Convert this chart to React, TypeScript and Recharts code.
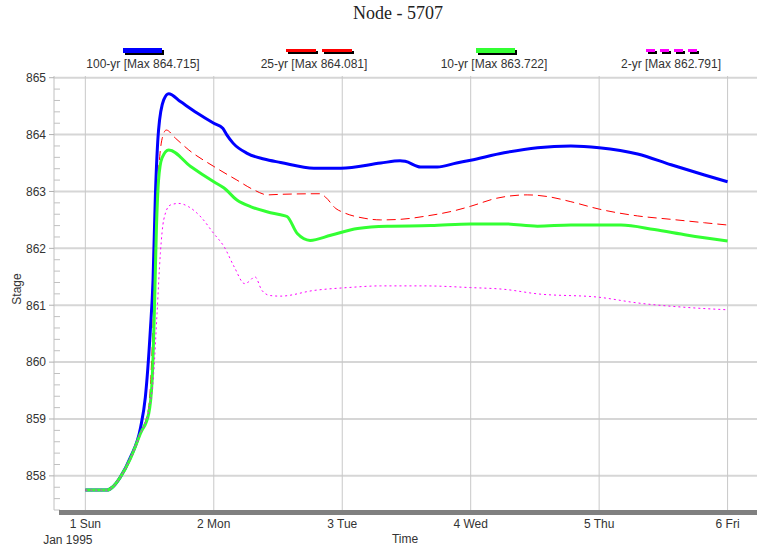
import React from 'react';
import { LineChart, Line, XAxis, YAxis, ReferenceLine } from 'recharts';

const dayTicks = [0, 1, 2, 3, 4, 5];
const dayLabels = ['1 Sun', '2 Mon', '3 Tue', '4 Wed', '5 Thu', '6 Fri'];
const stageMajorTicks = [858, 859, 860, 861, 862, 863, 864, 865];
const stageAllTicks = [
  857.4, 857.6, 857.8, 858, 858.2, 858.4, 858.6, 858.8, 859, 859.2, 859.4, 859.6, 859.8,
  860, 860.2, 860.4, 860.6, 860.8, 861, 861.2, 861.4, 861.6, 861.8, 862, 862.2, 862.4,
  862.6, 862.8, 863, 863.2, 863.4, 863.6, 863.8, 864, 864.2, 864.4, 864.6, 864.8, 865,
];

const t100 = [0, 0.17, 0.21, 0.27, 0.35, 0.43, 0.467, 0.506, 0.527, 0.545, 0.57, 0.61, 0.649, 0.74, 0.87, 1.0, 1.07, 1.1, 1.15, 1.26, 1.39, 1.52, 1.78, 1.99, 2.3, 2.45, 2.49, 2.61, 2.74, 2.89, 3.0, 3.26, 3.52, 3.78, 4.0, 4.3, 4.56, 4.82, 5.0];
const v100 = [857.75, 857.75, 857.8, 857.97, 858.32, 858.85, 859.38, 860.56, 861.44, 862.91, 864.08, 864.61, 864.72, 864.58, 864.38, 864.2, 864.11, 864.0, 863.85, 863.67, 863.57, 863.51, 863.41, 863.41, 863.5, 863.54, 863.53, 863.43, 863.43, 863.5, 863.55, 863.68, 863.77, 863.8, 863.77, 863.66, 863.47, 863.29, 863.17];

const t25 = [0, 0.17, 0.21, 0.27, 0.35, 0.43, 0.493, 0.53, 0.553, 0.579, 0.61, 0.63, 0.7, 0.805, 1.0, 1.18, 1.31, 1.42, 1.52, 1.83, 1.87, 1.95, 2.01, 2.17, 2.3, 2.45, 2.66, 2.87, 3.0, 3.2, 3.44, 3.6, 3.78, 4.0, 4.3, 4.56, 4.82, 5.0];
const v25 = [857.75, 857.75, 857.8, 857.97, 858.3, 858.75, 859.2, 860.85, 862.62, 863.61, 864.02, 864.08, 863.94, 863.73, 863.44, 863.2, 863.03, 862.94, 862.95, 862.96, 862.9, 862.7, 862.63, 862.53, 862.5, 862.51, 862.57, 862.66, 862.74, 862.88, 862.94, 862.91, 862.82, 862.69, 862.57, 862.51, 862.45, 862.41];

const t10 = [0, 0.17, 0.21, 0.27, 0.35, 0.43, 0.493, 0.52, 0.537, 0.553, 0.57, 0.597, 0.649, 0.82, 1.0, 1.08, 1.18, 1.29, 1.42, 1.52, 1.57, 1.65, 1.75, 1.91, 2.12, 2.35, 2.69, 3.0, 3.26, 3.52, 3.78, 4.17, 4.43, 4.69, 5.0];
const v10 = [857.75, 857.75, 857.8, 857.97, 858.3, 858.75, 859.09, 859.68, 860.85, 862.32, 863.2, 863.59, 863.73, 863.44, 863.17, 863.06, 862.85, 862.73, 862.64, 862.59, 862.56, 862.26, 862.14, 862.23, 862.35, 862.39, 862.4, 862.43, 862.43, 862.39, 862.41, 862.41, 862.33, 862.23, 862.13];

const t2 = [0, 0.17, 0.21, 0.27, 0.35, 0.43, 0.493, 0.532, 0.558, 0.584, 0.61, 0.66, 0.727, 0.805, 0.9, 1.0, 1.08, 1.16, 1.24, 1.27, 1.32, 1.375, 1.44, 1.52, 1.78, 2.04, 2.3, 2.64, 3.0, 3.26, 3.52, 4.0, 4.3, 4.69, 5.0];
const v2 = [857.75, 857.75, 857.8, 857.97, 858.3, 858.75, 859.15, 859.8, 860.85, 861.91, 862.5, 862.76, 862.79, 862.73, 862.55, 862.26, 862.03, 861.67, 861.38, 861.41, 861.5, 861.26, 861.17, 861.16, 861.26, 861.31, 861.34, 861.34, 861.31, 861.28, 861.2, 861.14, 861.04, 860.96, 860.92];

const seriesNames = ['100-yr [Max 864.715]', '25-yr [Max 864.081]', '10-yr [Max 863.722]', '2-yr [Max 862.791]'];

const zip = (ts: number[], vs: number[]) => ts.map((t, i) => ({ t, v: vs[i] }));
const d100 = zip(t100, v100);
const d25 = zip(t25, v25);
const d10 = zip(t10, v10);
const d2 = zip(t2, v2);

const SANS = '"Liberation Sans", Arial, sans-serif';

const YTick = (props: any) => {
  const { x, y, payload } = props;
  const val = payload.value as number;
  const major = Math.abs(val - Math.round(val)) < 1e-6;
  if (major) {
    return (
      <g>
        <line x1={x - 5} x2={x} y1={y} y2={y} stroke="#b0b0b0" />
        <text x={x - 8} y={y + 4.3} textAnchor="end" fontSize={12} fill="#333" fontFamily={SANS}>
          {Math.round(val)}
        </text>
      </g>
    );
  }
  return <line x1={x} x2={x + 6} y1={y} y2={y} stroke="#c0c0c0" />;
};

const XTick = (props: any) => {
  const { x, y, payload, index } = props;
  const i = dayTicks.indexOf(payload.value);
  return (
    <g>
      <text x={x} y={y + 17.5} textAnchor="middle" fontSize={12} fill="#333" fontFamily={SANS}>
        {dayLabels[i >= 0 ? i : index]}
      </text>
      {payload.value === 0 ? (
        <text x={x - 17.5} y={y + 33.5} textAnchor="middle" fontSize={12} fill="#333" fontFamily={SANS}>
          Jan 1995
        </text>
      ) : null}
    </g>
  );
};

const Swatch = ({ left, top, width, height, color }: any) => (
  <>
    <div style={{ position: 'absolute', left: left + 2, top: top + 2, width, height, background: '#000' }} />
    <div style={{ position: 'absolute', left, top, width, height, background: color }} />
  </>
);

const legendCenters = [143, 314, 494, 671];

export default function App() {
  return (
    <div style={{ position: 'absolute', left: 0, top: 0, width: 757, height: 548, background: '#fff', overflow: 'hidden' }}>
      <div
        style={{
          position: 'absolute', left: 298, top: 3, width: 200, textAlign: 'center',
          fontFamily: '"Liberation Serif", "Times New Roman", serif', fontSize: 18, color: '#222',
        }}
      >
        Node - 5707
      </div>

      {/* legend swatches */}
      <Swatch left={123} top={48} width={39} height={5} color="#0000ff" />
      <Swatch left={286} top={49} width={30} height={3} color="#ff0000" />
      <Swatch left={322} top={49} width={30} height={3} color="#ff0000" />
      <Swatch left={476} top={48} width={39} height={5} color="#33ff33" />
      <Swatch left={646} top={49} width={9} height={3} color="#ff00ff" />
      <Swatch left={660} top={49} width={9} height={3} color="#ff00ff" />
      <Swatch left={674} top={49} width={9} height={3} color="#ff00ff" />
      <Swatch left={688} top={49} width={9} height={3} color="#ff00ff" />
      {seriesNames.map((n, i) => (
        <div
          key={n}
          style={{
            position: 'absolute', left: legendCenters[i] - 90, width: 180, top: 57, lineHeight: '14px',
            textAlign: 'center', fontFamily: SANS, fontSize: 12, color: '#333',
          }}
        >
          {n}
        </div>
      ))}

      <LineChart
        width={757}
        height={548}
        margin={{ top: 76, right: 0, bottom: 0, left: 0 }}
        style={{ position: 'absolute', left: 0, top: 0 }}
      >
        <XAxis
          dataKey="t"
          type="number"
          domain={[-0.244, 5.229]}
          ticks={dayTicks}
          height={38}
          axisLine={false}
          tickLine={false}
          tickSize={0}
          tickMargin={0}
          tick={<XTick />}
          allowDataOverflow
          interval={0}
        />
        <YAxis
          type="number"
          domain={[857.4, 865.03]}
          ticks={stageAllTicks}
          width={54}
          axisLine={{ stroke: '#c0c0c0' }}
          tickLine={false}
          tickSize={0}
          tickMargin={0}
          tick={<YTick />}
          allowDataOverflow
          interval={0}
        />
        {stageMajorTicks.map((v) => (
          <ReferenceLine key={'h' + v} y={v} stroke="#d6d6d6" strokeWidth={2} />
        ))}
        {dayTicks.map((d) => (
          <ReferenceLine key={'v' + d} x={d} stroke="#c8c8c8" strokeWidth={1} />
        ))}
        <Line data={d100} dataKey="v" type="monotone" stroke="#0000ff" strokeWidth={3} dot={false} isAnimationActive={false} />
        <Line data={d25} dataKey="v" type="monotone" stroke="#ff0000" strokeWidth={1} strokeDasharray="9 5" dot={false} isAnimationActive={false} />
        <Line data={d10} dataKey="v" type="monotone" stroke="#33ff33" strokeWidth={3} dot={false} isAnimationActive={false} />
        <Line data={d2} dataKey="v" type="monotone" stroke="#ff00ff" strokeWidth={1} strokeDasharray="2 3" dot={false} isAnimationActive={false} />
      </LineChart>

      <div style={{ position: 'absolute', left: 59, top: 510, width: 698, height: 5, background: '#808080' }} />

      <div
        style={{
          position: 'absolute', left: 375, width: 60, top: 532, lineHeight: '14px', textAlign: 'center',
          fontFamily: SANS, fontSize: 12, color: '#333',
        }}
      >
        Time
      </div>
      <div
        style={{
          position: 'absolute', left: -13, width: 60, top: 282, lineHeight: '14px', textAlign: 'center',
          fontFamily: SANS, fontSize: 12, color: '#333', transform: 'rotate(-90deg)',
        }}
      >
        Stage
      </div>
    </div>
  );
}
